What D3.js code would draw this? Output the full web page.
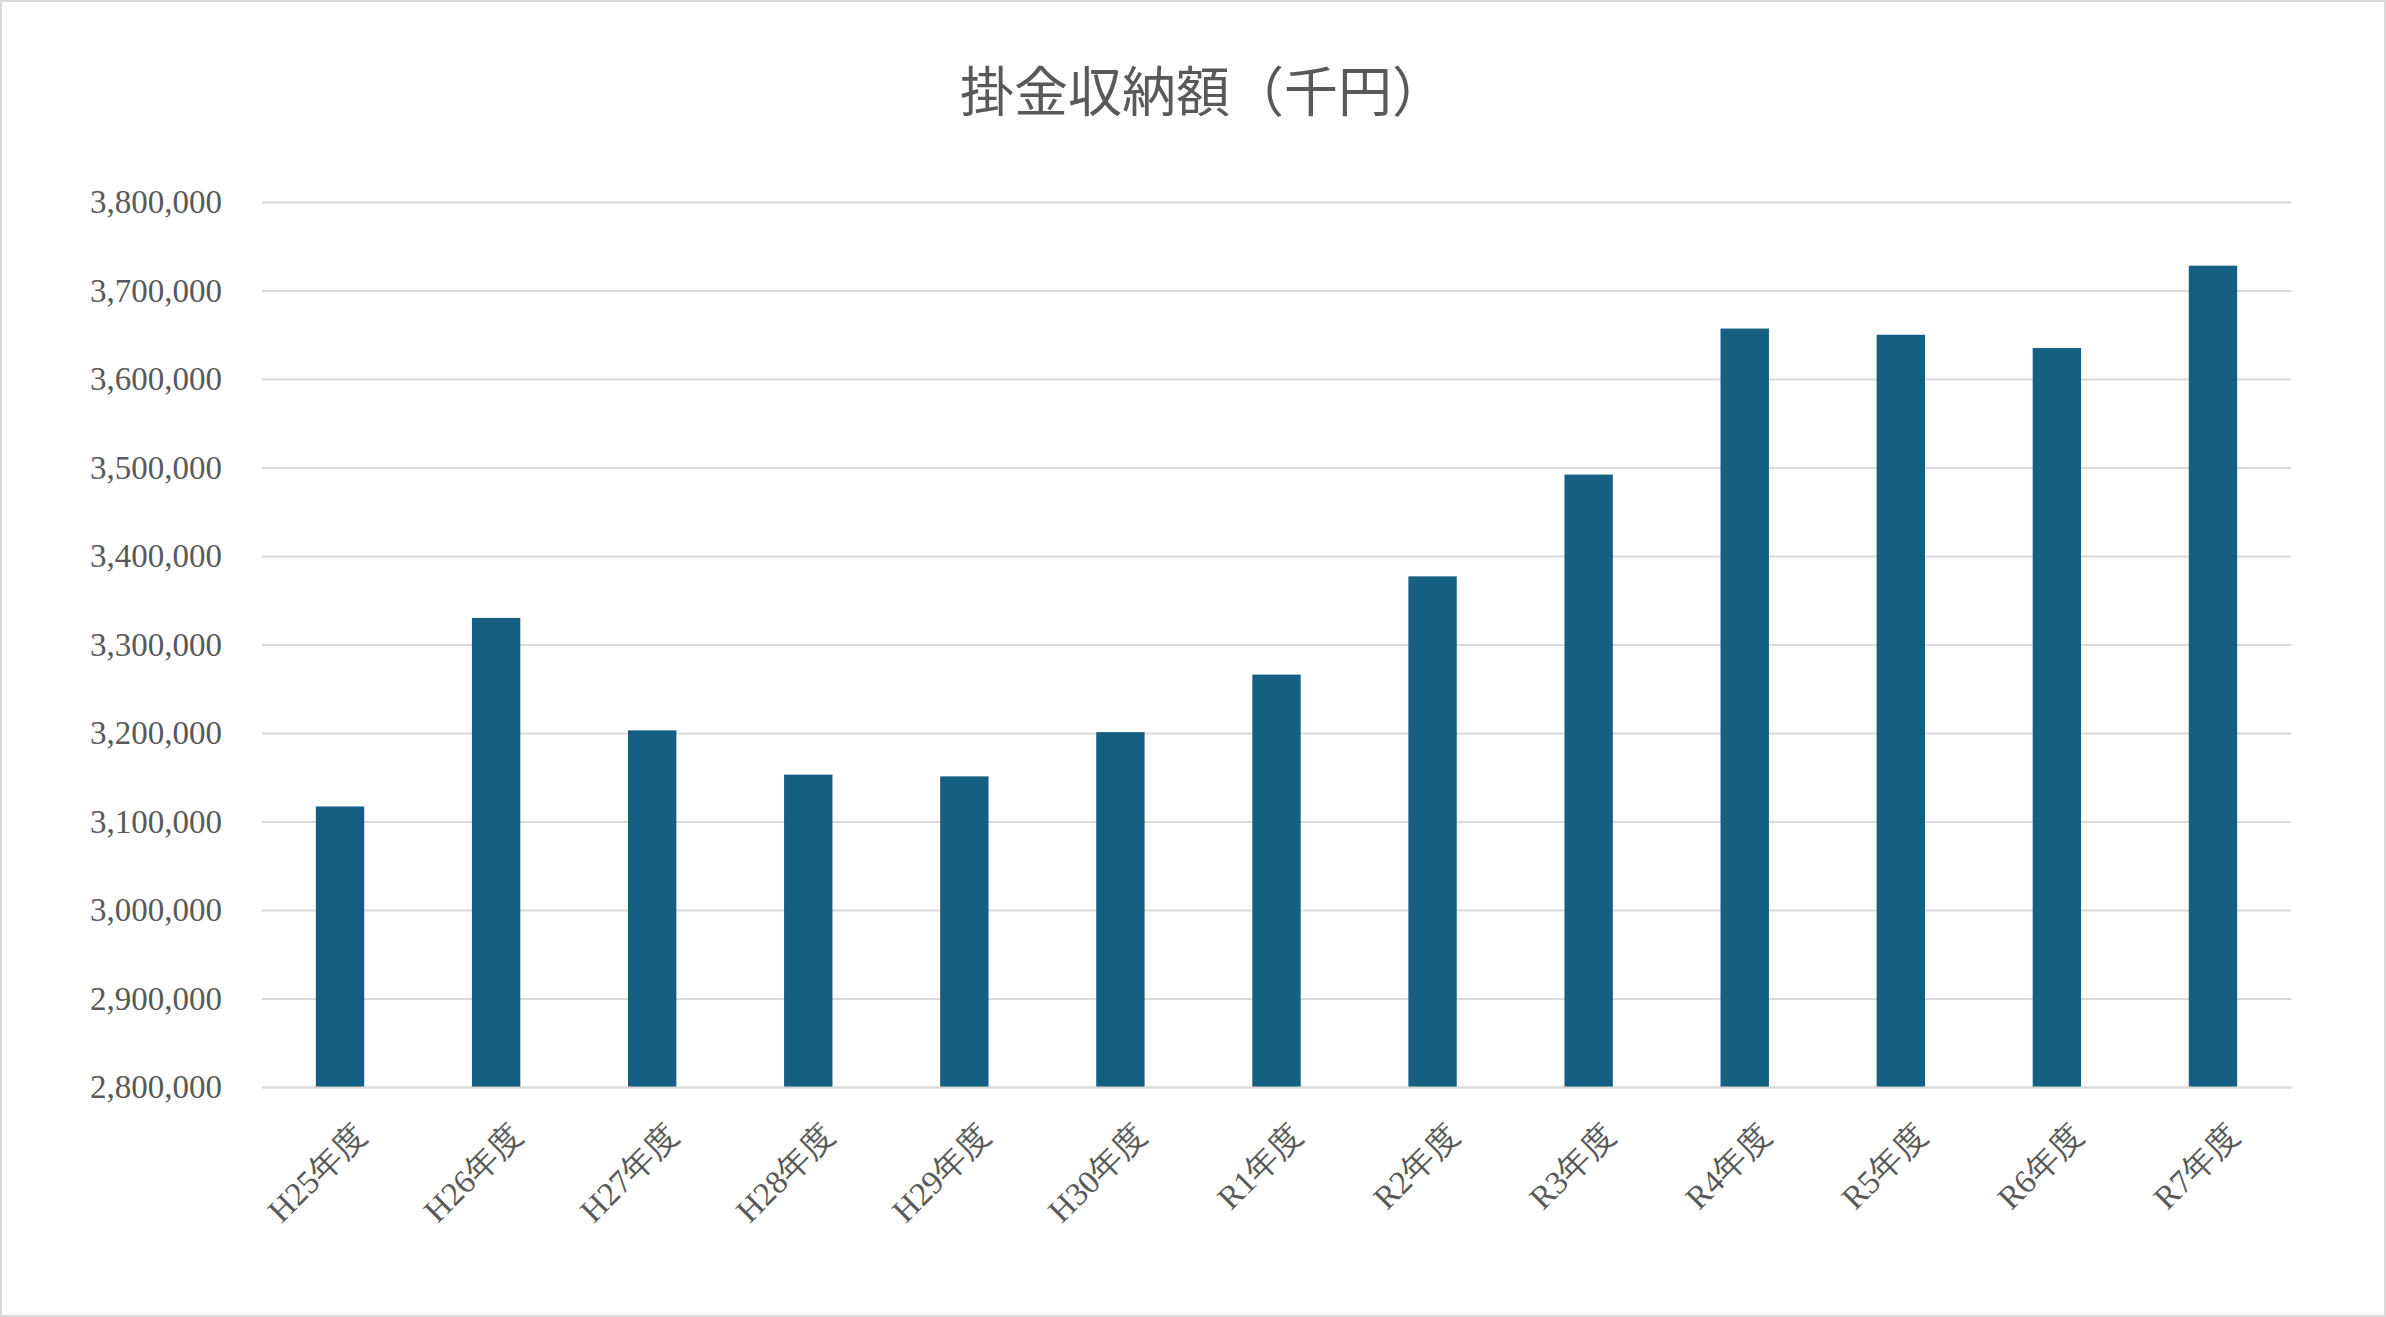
<!DOCTYPE html>
<html><head><meta charset="utf-8">
<script src="https://cdn.jsdelivr.net/npm/d3@7"></script>
<style>body{margin:0;background:#fff}</style>
</head><body>
<svg id="c" width="2386" height="1317"></svg>
<script>
const categories = ['H25年度','H26年度','H27年度','H28年度','H29年度','H30年度','R1年度','R2年度','R3年度','R4年度','R5年度','R6年度','R7年度'];
const values = [3117000,3330000,3203000,3153000,3151000,3201000,3266000,3377000,3492000,3657000,3650000,3635000,3728000];
const yTicks = [2800000,2900000,3000000,3100000,3200000,3300000,3400000,3500000,3600000,3700000,3800000];

const W = 2386, H = 1317;
const M = {top: 202, right: 95, bottom: 230, left: 262};
const SERIF = "'Liberation Serif','DejaVu Serif',serif";
const svg = d3.select('#c');
svg.append('rect').attr('x',1).attr('y',1).attr('width',W-2).attr('height',H-2)
  .attr('fill','#fff').attr('stroke','#d9d9d9').attr('stroke-width',2);

const x = d3.scaleBand().domain(categories).range([M.left, W-M.right]).paddingInner(0.69).paddingOuter(0.345);
const y = d3.scaleLinear().domain([2800000,3800000]).range([H-M.bottom, M.top]);

svg.append('g').attr('transform',`translate(${M.left},0)`)
  .call(d3.axisLeft(y).tickValues(yTicks).tickSize(-(W-M.left-M.right)).tickFormat(d3.format(',')))
  .call(a=>a.select('.domain').remove())
  .call(a=>a.selectAll('line').attr('stroke','#d9d9d9').attr('stroke-width',2))
  .call(a=>a.selectAll('text').attr('x',-40).attr('fill','#595959').style('font-family',SERIF).style('font-size','33px'));

svg.append('g').selectAll('rect').data(values).join('rect')
  .attr('x',(d,i)=>x(categories[i])).attr('width',x.bandwidth())
  .attr('y',d=>y(d)).attr('height',d=>y(2800000)-y(d)).attr('fill','#156082');

svg.append('g').attr('transform',`translate(0,${H-M.bottom})`)
  .call(d3.axisBottom(x).tickSize(0))
  .call(a=>a.select('.domain').attr('stroke','#d9d9d9').attr('stroke-width',2))
  .call(a=>a.selectAll('text').attr('fill','#595959').style('font-family',SERIF).style('font-size','33px')
    .attr('text-anchor','end').attr('dy','0.35em')
    .attr('transform','translate(18,40) rotate(-45)'));

svg.append('text').attr('x',(W)/2+10).attr('y',112).attr('text-anchor','middle')
  .attr('fill','#595959').style('font-family',"'Noto Sans CJK JP',sans-serif").style('font-size','54px')
  .text('掛金収納額（千円）');
</script>
</body></html>
